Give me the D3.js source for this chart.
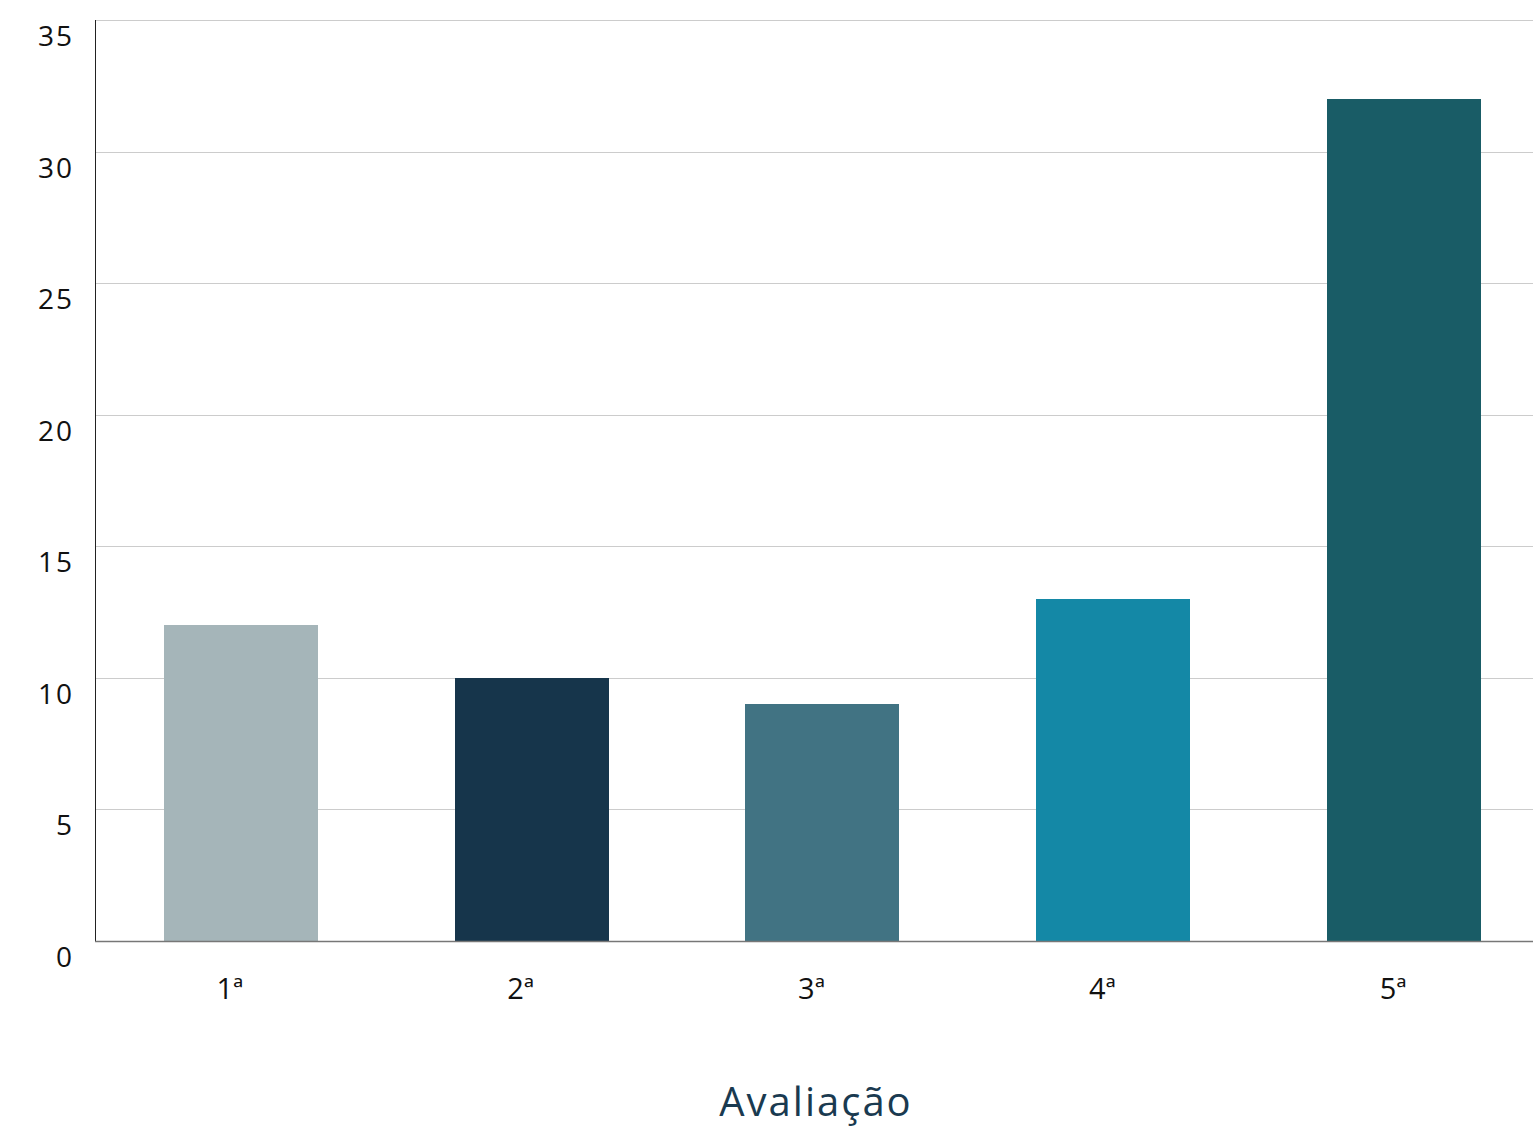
<!DOCTYPE html>
<html><head><meta charset="utf-8">
<script src="https://cdn.jsdelivr.net/npm/d3@7"></script>
<style>body{margin:0;background:#fff;}svg{display:block;font-family:"Open Sans","Noto Sans",sans-serif;}</style>
</head><body>
<svg id="c" width="1533" height="1128"></svg>
<script>
const categories = ["1ª","2ª","3ª","4ª","5ª"];
const values = [12, 10, 9, 13, 32];
const colors = ["#a5b5b9","#16354b","#417383","#1488a6","#195c66"];
const yTicks = [0,5,10,15,20,25,30,35];
const xTitle = "Avaliação";

(function(){
const svg = d3.select("#c");
const mLeft = 95, mRight = 1549.5, mTop = 20, mBottom = 941;
const x = d3.scaleBand().domain(categories).range([mLeft+0.5, mRight]).paddingInner(0.47).paddingOuter(0.235);
const y = d3.scaleLinear().domain([0,35]).range([mBottom, mTop]);

svg.append("g").selectAll("line").data(yTicks.filter(d=>d>0)).join("line")
  .attr("x1", mLeft).attr("x2", 1533)
  .attr("y1", d=>Math.round(y(d))+0.5).attr("y2", d=>Math.round(y(d))+0.5)
  .attr("stroke","#cccccc").attr("stroke-width",1);

svg.append("g").selectAll("rect").data(values).join("rect")
  .attr("x",(d,i)=>Math.round(x(categories[i])))
  .attr("width",Math.round(x.bandwidth()))
  .attr("y",d=>Math.round(y(d)))
  .attr("height",d=>mBottom-Math.round(y(d)))
  .attr("fill",(d,i)=>colors[i]);

svg.append("line").attr("x1",mLeft+0.5).attr("x2",mLeft+0.5).attr("y1",mTop).attr("y2",mBottom+1)
  .attr("stroke","#222").attr("stroke-width",1);
svg.append("line").attr("x1",mLeft).attr("x2",1533).attr("y1",mBottom+0.5).attr("y2",mBottom+0.5)
  .attr("stroke","#777").attr("stroke-width",1.5);

svg.append("g").selectAll("text").data(yTicks).join("text")
  .attr("x",74).attr("y",d=>y(d)+26)
  .attr("text-anchor","end").attr("font-size",28).attr("letter-spacing",2).attr("fill","#111")
  .text(d=>d);

svg.append("g").selectAll("text").data(categories).join("text")
  .attr("x",d=>x(d)+x.bandwidth()/2-11).attr("y",999)
  .attr("text-anchor","middle").attr("font-size",29).attr("fill","#111")
  .text(d=>d);

svg.append("text").attr("x",816).attr("y",1116).attr("text-anchor","middle")
  .attr("font-size",40).attr("letter-spacing",2).attr("fill","#1a3a50").text(xTitle);
})();
</script>
</body></html>
